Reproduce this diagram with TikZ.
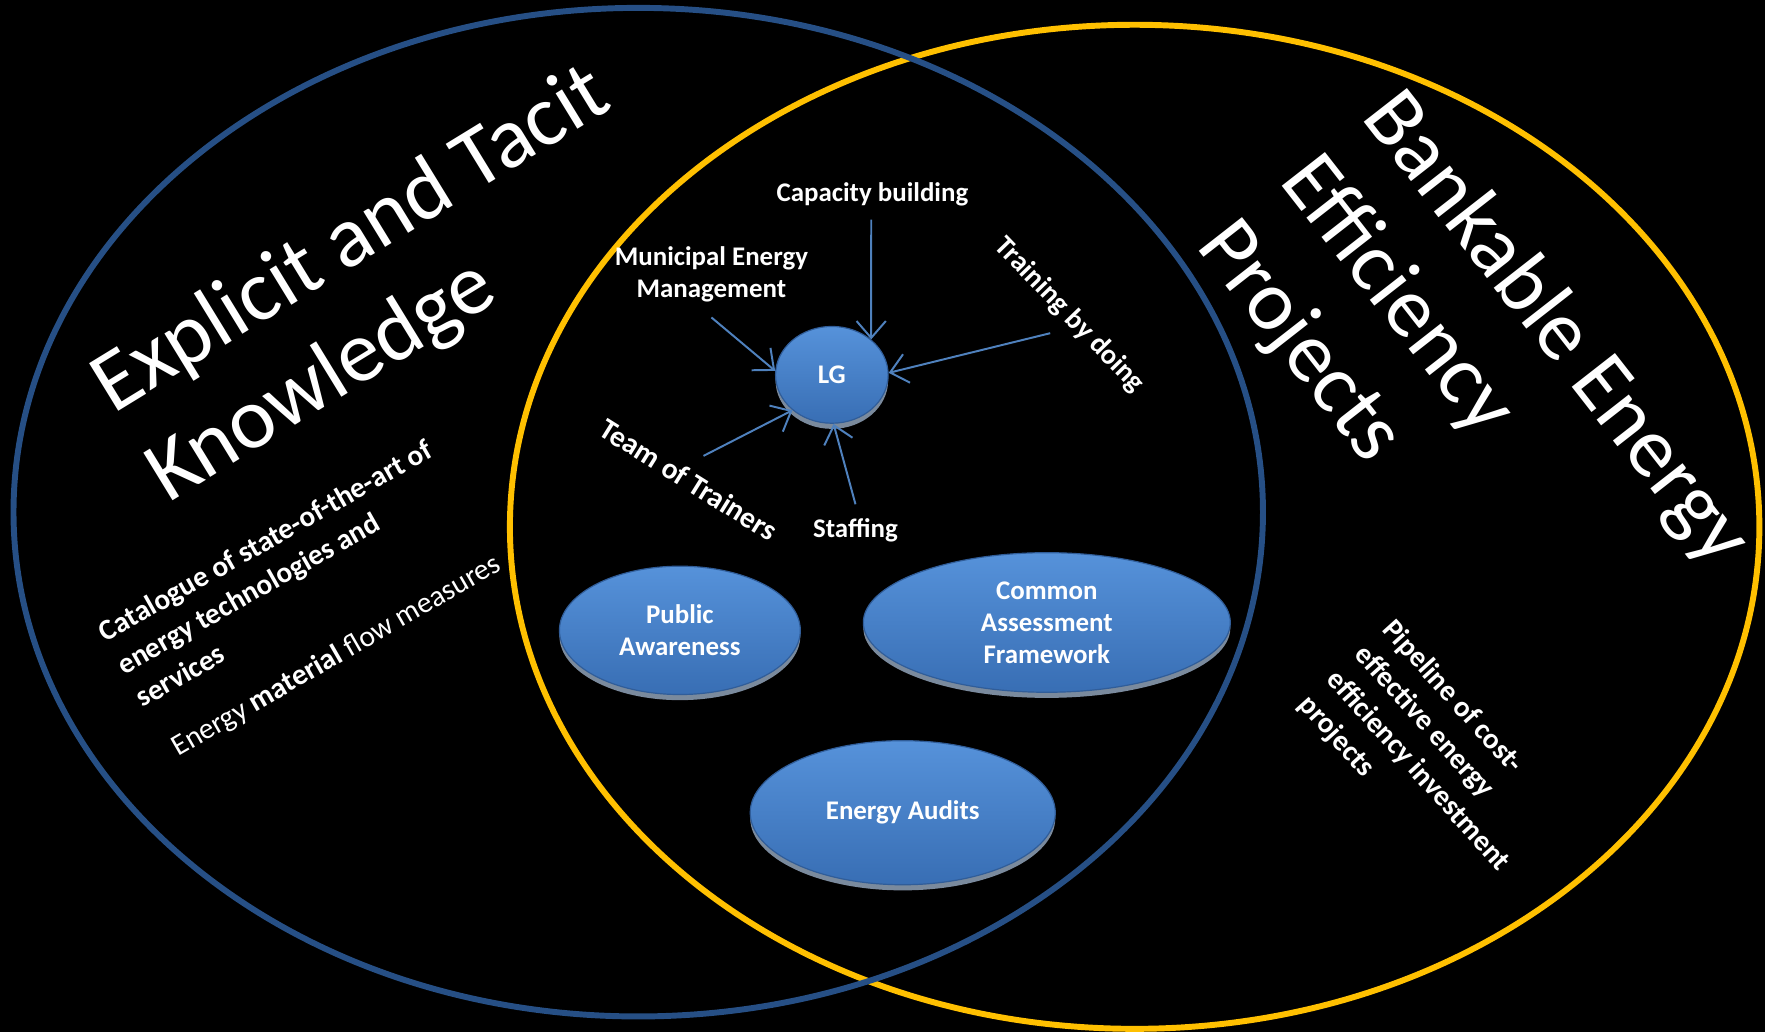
\documentclass[tikz,border=0pt]{standalone}
\usepackage{fontspec}
\setmainfont{Carlito}
\usetikzlibrary{positioning,shapes.geometric,arrows.meta,shadows}

\definecolor{setblue}{RGB}{38,79,133}
\definecolor{setgold}{RGB}{255,192,0}
\definecolor{bubtop}{RGB}{86,146,218}
\definecolor{bubbot}{RGB}{56,110,180}
\definecolor{arrowblue}{RGB}{79,129,189}

\begin{document}
\begin{tikzpicture}[x=0.1mm, y=-0.1mm,
  bubble/.style={
        ellipse,
        inner sep=0pt,
        top color=bubtop, bottom color=bubbot,
        draw=bubbot!85!black, line width=0.3pt,
        drop shadow={shadow xshift=0pt, shadow yshift=-0.5mm, fill=white!60!bubbot, opacity=0.7},
        text=white, align=center,
        font=\fontsize{6.8}{8.1}\selectfont\bfseries
  },
  tag/.style={
        text=white, align=center, inner sep=0pt,
        font=\fontsize{6.8}{8}\selectfont\bfseries
  },
  note/.style={
        text=white, align=left, inner sep=0pt,
        font=\fontsize{7.4}{9.5}\selectfont\bfseries
  },
  title/.style={
        text=white, align=left, inner sep=0pt,
        font=\fontsize{22}{26.5}\selectfont
  },
  feed/.style={
        draw=arrowblue, line width=0.5pt,
        -{Straight Barb[length=1.5mm, width=2.6mm]}
  }
]

    \fill[black] (0,0) rectangle (1568,917);
    \useasboundingbox (0,0) rectangle (1568,917);

    % the two sets
    \draw[setgold, line width=1.5pt] (1008,468) ellipse [x radius=555, y radius=446];
    \draw[setblue, line width=1.5pt] (567,455) ellipse [x radius=555, y radius=448];

    \node[title, rotate=31.5] (know) at (337,254) {Explicit and Tacit\\Knowledge};
    \node[title, rotate=-52, font=\fontsize{21.6}{26.5}\selectfont] (bank) at (1308,350) {Bankable Energy\\Efficiency\\Projects};

    \node[note, rotate=29.6] (cat) at (252,509)
        {Catalogue of state-of-the-art of\\energy technologies and\\services};
    \node[note, font=\fontsize{7.5}{9.5}\selectfont, rotate=30] (flow) at (299,583)
        {Energy \textbf{material} flow measures};
    \node[note, rotate=-48] (pipe) at (1272,674)
        {Pipeline of cost-\\effective energy\\efficiency investment\\projects};

    % bubbles
    \node[bubble, minimum width=10mm, minimum height=8.6mm] (lg) at (739,333) {LG};
    \node[bubble, minimum width=21.4mm, minimum height=11.4mm] (pub) at (604,560) {Public\\Awareness};
    \node[bubble, minimum width=32.6mm, minimum height=12.4mm] (caf) at (930,553) {Common\\Assessment\\Framework};
    \node[bubble, minimum width=27.1mm, minimum height=12.8mm] (audit) at (802,722) {Energy Audits};

    % what feeds the LG
    \node[tag] (cap) at (775,173) {Capacity building};
    \node[tag] (mun) at (632,244) {Municipal Energy\\Management};
    \node[tag, rotate=-46, font=\fontsize{7.2}{8}\selectfont\bfseries] (train) at (950,280) {Training by doing};
    \node[tag, rotate=-32, font=\fontsize{7.5}{8}\selectfont\bfseries] (team) at (612,426) {Team of Trainers};
    \node[tag] (staff) at (760,471) {Staffing};

    \coordinate (capfoot) at (774,195);
    \coordinate (munfoot) at (632,282);
    \coordinate (trainfoot) at (933,296);
    \coordinate (teamfoot) at (625,405);
    \coordinate (stafffoot) at (760,448);

    \draw[feed] (capfoot) -- (lg.42);
    \draw[feed] (munfoot) -- (lg.176);
    \draw[feed] (trainfoot) -- (lg.2);
    \draw[feed] (teamfoot) -- (lg.222);
    \draw[feed] (stafffoot) -- (lg.272);
\end{tikzpicture}
\end{document}
